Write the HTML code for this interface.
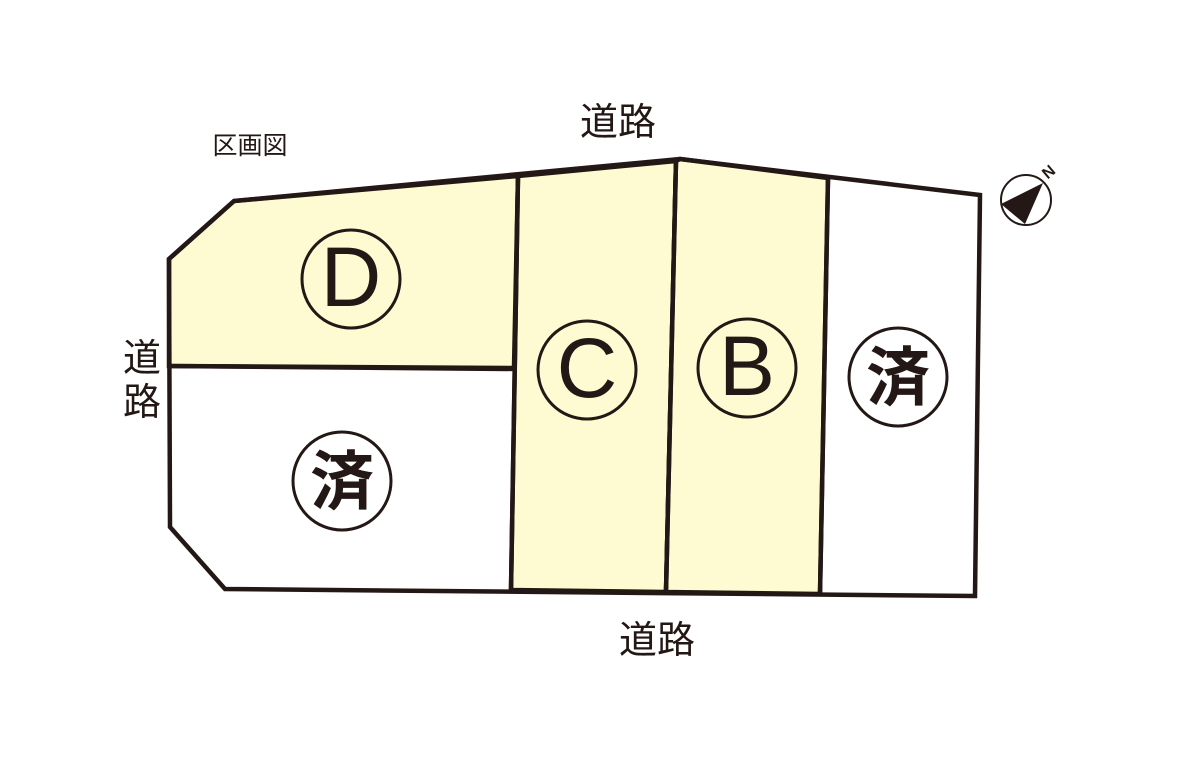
<!DOCTYPE html>
<html><head><meta charset="utf-8"><style>
html,body{margin:0;padding:0;background:#fff;}
svg{display:block}
text{font-family:"Liberation Sans","Noto Sans CJK JP",sans-serif;fill:#231815}
</style></head><body>
<svg width="1202" height="769" viewBox="0 0 1202 769" xmlns="http://www.w3.org/2000/svg">
<g stroke="#231815" stroke-width="4.5" stroke-linejoin="miter">
<polygon points="169,259 234,201 518,176 514,368 169,366" fill="#fefad2"/>
<polygon points="518,176 676,161 666,592 511,590" fill="#fefad2"/>
<polygon points="676,161 680,159 828,178 820,594 666,592" fill="#fefad2"/>
<polygon points="234,201 680,159 980,195 975,596 225,589 170,527 169,259" fill="none"/>
<line x1="518" y1="176" x2="511" y2="590"/>
<line x1="676" y1="161" x2="666" y2="592"/>
<line x1="828" y1="178" x2="820" y2="594"/>
<line x1="169" y1="366" x2="516" y2="369"/>
</g>
<g fill="none" stroke="#231815" stroke-width="3">
<circle cx="351" cy="279" r="49"/>
<circle cx="587" cy="370" r="49"/>
<circle cx="747" cy="368" r="49"/>
<circle cx="898" cy="377" r="49"/>
<circle cx="342" cy="481" r="49"/>
</g>
<g font-size="84" text-anchor="middle">
<text x="351" y="306">D</text>
<text x="587" y="397">C</text>
<text x="747" y="395">B</text>
</g>
<g font-size="64" text-anchor="middle" font-weight="bold">
<text x="898" y="400">済</text>
<text x="342" y="504">済</text>
</g>
<g font-size="38" text-anchor="middle">
<text x="618" y="135">道路</text>
<text x="657" y="653">道路</text>
<text x="142" y="371">道</text>
<text x="142" y="415">路</text>
</g>
<text x="250" y="154" font-size="25" text-anchor="middle">区画図</text>
<circle cx="1026" cy="200" r="25" fill="none" stroke="#231815" stroke-width="2"/>
<polygon points="1001,204 1043,183 1025,224" fill="#231815"/>
<text x="0" y="0" font-size="16" font-weight="bold" text-anchor="middle" transform="translate(1052,176) rotate(-40)">N</text>
</svg>
</body></html>
